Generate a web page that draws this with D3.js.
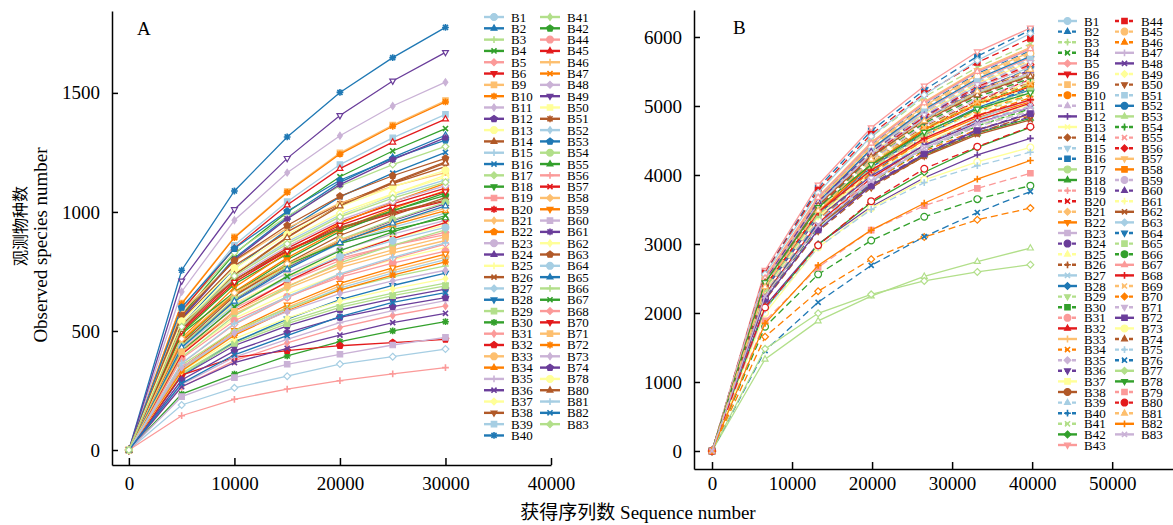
<!DOCTYPE html>
<html>
<head>
<meta charset="utf-8">
<script src="https://cdn.jsdelivr.net/npm/d3@7"></script>
<style>
body{margin:0;background:#fff;}
text{font-family:"Liberation Serif","Times New Roman","Noto Sans CJK SC",serif;fill:#000;}
</style>
</head>
<body>
<div id="wrapper"></div>
<script>
var colors = ['#a6cee3','#1f78b4','#b2df8a','#33a02c','#fb9a99','#e31a1c','#fdbf6f','#ff7f00','#cab2d6','#6a3d9a','#ffff99','#b15928'];

// panel A : sequencing depth and observed species per sample
var depthA = [0,5000,10000,15000,20000,25000,30000];
var xTicksA = [0,10000,20000,30000,40000];
var yTicksA = [0,500,1000,1500];
var namesA = ['B1','B2','B3','B4','B5','B6','B9','B10','B11','B12','B13','B14','B15','B16','B17','B18','B19','B20','B21','B22','B23','B24','B25','B26','B27','B28','B29','B30','B31','B32','B33','B34','B35','B36','B37','B38','B39','B40',
  'B41','B42','B44','B45','B46','B47','B48','B49','B50','B51','B52','B53','B54','B55','B56','B57','B58','B59','B60','B61','B62','B63','B64','B65','B66','B67','B68','B70','B71','B72','B73','B74','B78','B80','B81','B82','B83'];
var valuesA = [
  [0,522,738,874,987,1067,1135],
  [0,555,806,978,1124,1229,1322],
  [0,322,456,540,610,659,701],
  [0,567,824,999,1148,1256,1350],
  [0,421,595,705,796,860,915],
  [0,523,711,836,930,993,1045],
  [0,617,895,1086,1248,1365,1468],
  [0,614,892,1082,1243,1360,1462],
  [0,665,965,1165,1320,1445,1545],
  [0,311,439,521,588,635,676],
  [0,485,705,855,982,1074,1155],
  [0,508,738,895,1029,1125,1210],
  [0,458,647,766,866,935,995],
  [0,525,763,925,1063,1163,1250],
  [0,587,829,982,1109,1199,1275],
  [0,454,659,799,918,1004,1080],
  [0,453,615,724,805,860,905],
  [0,506,715,847,957,1034,1100],
  [0,405,572,678,766,827,880],
  [0,458,665,807,927,1014,1090],
  [0,444,627,743,840,907,965],
  [0,435,631,766,880,963,1035],
  [0,391,553,655,740,799,850],
  [0,547,774,916,1035,1119,1190],
  [0,189,261,310,361,392,424],
  [0,312,453,550,632,691,743],
  [0,317,448,531,599,648,689],
  [0,235,319,395,455,500,539],
  [0,265,375,450,515,565,605],
  [0,315,389,417,438,451,465],
  [0,340,494,599,689,753,810],
  [0,462,653,774,874,945,1005],
  [0,275,390,465,535,585,627],
  [0,266,367,427,483,535,574],
  [0,527,744,882,996,1076,1145],
  [0,445,647,784,901,986,1060],
  [0,592,860,1043,1199,1311,1410],
  [0,755,1088,1315,1502,1648,1775],
  [0,389,564,685,786,860,925],
  [0,492,696,824,931,1006,1070],
  [0,384,543,643,726,785,835],
  [0,584,848,1029,1182,1293,1390],
  [0,583,792,932,1037,1107,1165],
  [0,470,683,829,952,1042,1120],
  [0,511,722,855,966,1043,1110],
  [0,710,1010,1225,1405,1550,1670],
  [0,435,614,728,822,888,945],
  [0,525,714,840,935,998,1050],
  [0,336,488,592,680,744,800],
  [0,599,846,1003,1133,1224,1302],
  [0,437,634,770,884,967,1040],
  [0,488,663,780,868,926,975],
  [0,144,213,256,291,320,346],
  [0,401,583,707,812,888,955],
  [0,467,660,782,883,954,1015],
  [0,346,502,609,700,765,823],
  [0,224,304,360,402,441,473],
  [0,551,800,971,1115,1220,1312],
  [0,331,468,554,626,677,720],
  [0,564,796,943,1066,1152,1225],
  [0,430,608,720,813,879,935],
  [0,431,625,759,871,953,1025],
  [0,356,502,595,673,727,773],
  [0,414,601,729,837,916,985],
  [0,363,528,640,735,804,865],
  [0,499,705,835,944,1020,1085],
  [0,412,582,689,779,841,895],
  [0,332,482,585,672,735,790],
  [0,347,491,581,657,710,755],
  [0,294,416,493,557,602,640],
  [0,541,764,905,1022,1105,1175],
  [0,506,735,892,1025,1121,1205],
  [0,365,531,644,740,809,870],
  [0,280,400,480,560,620,661],
  [0,518,731,866,979,1058,1125]
];

// panel B
var depthB = [0,6630,13260,19890,26520,33150,39780];
var xTicksB = [0,10000,20000,30000,40000,50000];
var yTicksB = [0,1000,2000,3000,4000,5000,6000];
var namesB = ['B1','B2','B3','B4','B5','B6','B9','B10','B11','B12','B13','B14','B15','B16','B17','B18','B19','B20','B21','B22','B23','B24','B25','B26','B27','B28','B29','B30','B31','B32','B33','B34','B35','B36','B37','B38','B39','B40','B41','B42','B43',
  'B44','B45','B46','B47','B48','B49','B50','B51','B52','B53','B54','B55','B56','B57','B58','B59','B60','B61','B62','B63','B64','B65','B66','B67','B68','B69','B70','B71','B72','B73','B74','B75','B76','B77','B78','B79','B80','B81','B82','B83'];
var valuesB = [
  [0,2500,3640,4365,4895,5280,5560],
  [0,2495,3655,4435,5015,5470,5800],
  [0,2415,3495,4110,4575,4910,5140],
  [0,2230,3250,3895,4365,4710,4960],
  [0,2450,3590,4360,4930,5375,5700],
  [0,2375,3460,4145,4645,5015,5280],
  [0,2470,3615,4390,4965,5415,5740],
  [0,2295,3320,3905,4345,4660,4880],
  [0,2440,3550,4255,4770,5150,5420],
  [0,2100,3000,3540,3960,4290,4530],
  [0,2360,3415,4015,4470,4795,5020],
  [0,2405,3500,4190,4700,5075,5340],
  [0,2415,3540,4300,4860,5300,5620],
  [0,2590,3815,4640,5230,5720,6100],
  [0,2455,3575,4285,4805,5185,5460],
  [0,2265,3280,3855,4290,4605,4820],
  [0,2340,3405,4080,4575,4940,5200],
  [0,2315,3395,4120,4660,5080,5385],
  [0,2435,3565,4330,4895,5335,5660],
  [0,2380,3440,4050,4505,4830,5060],
  [0,2505,3665,4450,5035,5490,5820],
  [0,2205,3210,3845,4310,4655,4900],
  [0,2465,3570,4200,4675,5015,5250],
  [0,2475,3605,4320,4840,5225,5500],
  [0,2195,3215,3900,4410,4810,5100],
  [0,2460,3605,4375,4950,5395,5720],
  [0,2320,3360,3950,4395,4720,4940],
  [0,2390,3480,4170,4675,5045,5310],
  [0,2400,3515,4270,4825,5260,5580],
  [0,2270,3300,3955,4435,4790,5040],
  [0,2485,3640,4420,5000,5450,5780],
  [0,2425,3510,4130,4590,4930,5160],
  [0,2415,3515,4215,4725,5100,5370],
  [0,2275,3290,3870,4310,4620,4840],
  [0,2425,3555,4315,4880,5320,5640],
  [0,2450,3565,4270,4785,5170,5440],
  [0,2350,3400,4000,4450,4775,5000],
  [0,2265,3315,4030,4555,4965,5265],
  [0,2560,3760,4550,5130,5560,5900],
  [0,2060,2990,3600,4040,4400,4690],
  [0,2620,3855,4685,5290,5785,6130],
  [0,2580,3780,4590,5180,5630,5980],
  [0,2475,3630,4405,4980,5430,5760],
  [0,2305,3355,4020,4505,4865,5120],
  [0,2465,3590,4300,4820,5205,5480],
  [0,2340,3385,3985,4430,4755,4980],
  [0,2305,3375,4095,4630,5050,5355],
  [0,2185,3185,3815,4275,4615,4860],
  [0,2440,3580,4345,4915,5355,5680],
  [0,2355,3430,4110,4605,4975,5235],
  [0,1330,1885,2245,2530,2745,2940],
  [0,2430,3535,4240,4750,5130,5400],
  [0,2390,3455,4065,4520,4850,5080],
  [0,2410,3530,4285,4845,5280,5600],
  [0,2515,3685,4475,5060,5515,5850],
  [0,2385,3470,4155,4660,5030,5295],
  [0,2310,3345,3935,4380,4700,4920],
  [0,2485,3615,4335,4860,5245,5520],
  [0,2330,3395,4065,4560,4920,5180],
  [0,2255,3265,3840,4270,4585,4800],
  [0,2560,3740,4560,5160,5660,6050],
  [0,2380,3490,4240,4790,5225,5540],
  [0,2350,3420,4100,4595,4960,5220],
  [0,1800,2560,3050,3395,3650,3845],
  [0,2505,3675,4460,5045,5500,5830],
  [0,2390,3460,4070,4530,4860,5090],
  [0,2395,3490,4180,4685,5060,5325],
  [0,1655,2315,2780,3100,3350,3520],
  [0,2420,3545,4305,4870,5310,5630],
  [0,2200,3205,3840,4305,4645,4890],
  [0,2000,2950,3520,3930,4190,4400],
  [0,2445,3555,4265,4780,5160,5430],
  [0,2050,2950,3500,3890,4135,4330],
  [0,1455,2155,2690,3105,3455,3760],
  [0,1480,1995,2270,2465,2595,2700],
  [0,2440,3530,4150,4620,4955,5190],
  [0,1885,2660,3200,3555,3805,4025],
  [0,2080,2980,3620,4090,4410,4700],
  [0,2380,3485,4230,4785,5215,5530],
  [0,1850,2690,3200,3590,3940,4210],
  [0,2245,3270,3915,4390,4740,4990]
];

var markersA = ['o','^','+','x','D','v','s','*','d','p'];
var markersB = ['o','^','+','x','D','v','s'];

var svg = d3.select('#wrapper').append('svg')
            .attr('width',1173)
            .attr('height',525);

function markerPath(t, r){
  var a = r*0.75, h = r*0.87;
  if(t==='o') return 'M'+r+',0A'+r+','+r+' 0 1,1 '+(-r)+',0A'+r+','+r+' 0 1,1 '+r+',0Z';
  if(t==='p'){
    var p = d3.range(5).map(function(k){ var an = -Math.PI/2 + k*2*Math.PI/5; return [r*Math.cos(an), r*Math.sin(an)]; });
    return 'M'+p.join('L')+'Z';
  }
  if(t==='^') return 'M0,'+(-r)+'L'+h+','+(r*0.55)+'L'+(-h)+','+(r*0.55)+'Z';
  if(t==='v') return 'M0,'+r+'L'+h+','+(-r*0.55)+'L'+(-h)+','+(-r*0.55)+'Z';
  if(t==='D') return 'M0,'+(-r)+'L'+r+',0L0,'+r+'L'+(-r)+',0Z';
  if(t==='d') return 'M0,'+(-r)+'L'+(r*0.7)+',0L0,'+r+'L'+(-r*0.7)+',0Z';
  if(t==='s'){ var s = r*0.8; return 'M'+(-s)+','+(-s)+'H'+s+'V'+s+'H'+(-s)+'Z'; }
  if(t==='+') return 'M'+(-r)+',0H'+r+'M0,'+(-r)+'V'+r;
  if(t==='x') return 'M'+(-a)+','+(-a)+'L'+a+','+a+'M'+(-a)+','+a+'L'+a+','+(-a);
  if(t==='*') return 'M'+(-r)+',0H'+r+'M0,'+(-r)+'V'+r+'M'+(-a)+','+(-a)+'L'+a+','+a+'M'+(-a)+','+a+'L'+a+','+(-a);
  return '';
}
var lineMarks = {'+':1,'x':1,'*':1};

function drawMarker(g, t, col, cx, cy, r, hollow){
  var m = g.append('path')
           .attr('d', markerPath(t, r))
           .attr('transform','translate('+cx+','+cy+')')
           .style('stroke', col)
           .style('stroke-width', lineMarks[t] ? 1.6 : 1.2);
  if(lineMarks[t]) m.style('fill','none');
  else m.style('fill', hollow ? '#fff' : col);
}

function panel(cfg){
  var x = d3.scaleLinear().domain(cfg.xDomain).range(cfg.xRange);
  var y = d3.scaleLinear().domain(cfg.yDomain).range(cfg.yRange);
  var line = d3.line()
               .x(function(d,i){ return x(cfg.depth[i]); })
               .y(function(d){ return y(d); });

  var plot = svg.append('g').attr('class','plot');
  cfg.values.forEach(function(vals, i){
    var col = colors[i % 12];
    var mk = cfg.markers[i % cfg.markers.length];
    var dashed = cfg.dashed && !(i % 5 === 0 || i % 5 === 4);
    var s = plot.append('g');
    s.append('path')
     .attr('d', line(vals))
     .style('fill','none')
     .style('stroke', col)
     .style('stroke-width', 1.3)
     .style('stroke-dasharray', dashed ? '7,4' : null);
    vals.forEach(function(v, j){
      drawMarker(s, mk, col, x(cfg.depth[j]), y(v), 3.4, cfg.hollow[mk]);
    });
  });

  var xAxis = d3.axisBottom(x).tickValues(cfg.xTicks).tickFormat(d3.format('d'))
                .tickSizeInner(-7).tickSizeOuter(0).tickPadding(cfg.xPad);
  var yAxis = d3.axisLeft(y).tickValues(cfg.yTicks).tickFormat(d3.format('d'))
                .tickSizeInner(-6).tickSizeOuter(0).tickPadding(12);
  var gx = svg.append('g').attr('transform','translate(0,'+cfg.yRange[0]+')').call(xAxis);
  var gy = svg.append('g').attr('transform','translate('+cfg.xRange[0]+',0)').call(yAxis);
  [gx, gy].forEach(function(a){
    a.attr('font-family', null).attr('font-size', null);
    a.selectAll('path,line').style('stroke','#000').style('stroke-width',1.5);
    a.selectAll('text').style('font-size','19px');
  });

  svg.append('text')
     .attr('x', cfg.labelPos[0]).attr('y', cfg.labelPos[1])
     .style('font-size','19px')
     .text(cfg.label);

  // legend, two columns; each column's labels are one text block
  var lg = svg.append('g');
  var colText = [0,1].map(function(c){
    return lg.append('text').style('font-size', cfg.legFont);
  });
  cfg.names.forEach(function(n, i){
    var c = i < cfg.split ? 0 : 1;
    var row = c === 0 ? i : i - cfg.split;
    var col = colors[i % 12];
    var mk = cfg.markers[i % cfg.markers.length];
    var dashed = cfg.dashed && !(i % 5 === 0 || i % 5 === 4);
    var lx = cfg.legX[c], ly = cfg.legY + row * cfg.legStep;
    lg.append('line')
      .attr('x1', lx).attr('x2', lx + cfg.legW)
      .attr('y1', ly).attr('y2', ly)
      .style('stroke', col).style('stroke-width', 2.4)
      .style('stroke-dasharray', dashed ? '4,3' : null);
    drawMarker(lg, mk, col, lx + cfg.legW/2, ly, 3.4, false);
    colText[c].append('tspan')
      .attr('x', lx + cfg.legW + cfg.legGap).attr('y', ly + 4.5)
      .text(n);
  });
}

panel({
  depth: depthA, values: valuesA, names: namesA,
  xDomain: [-1600, 40000], xRange: [112, 551],
  yDomain: [-63, 1844], yRange: [465, 11],
  xTicks: xTicksA, yTicks: yTicksA, xPad: 12,
  markers: markersA, dashed: false, hollow: {'^':1,'v':1,'D':1},
  label: 'A', labelPos: [137, 35],
  split: 38, legX: [484, 540], legW: 20, legGap: 7, legY: 17, legStep: 11.31, legFont: '13px'
});

panel({
  depth: depthB, values: valuesB, names: namesB,
  xDomain: [-2250, 57600], xRange: [694, 1173],
  yDomain: [-261, 6391], yRange: [469, 10],
  xTicks: xTicksB, yTicks: yTicksB, xPad: 8,
  markers: markersB, dashed: true, hollow: {'o':1,'^':1,'v':1,'D':1},
  label: 'B', labelPos: [733, 34],
  split: 41, legX: [1058, 1115], legW: 19, legGap: 7, legY: 21, legStep: 10.6, legFont: '13px'
});

// axis titles
svg.append('text')
   .attr('transform','translate(20,226) rotate(-90)')
   .attr('text-anchor','middle').attr('dy','0.35em')
   .style('font-size','16px')
   .text('观测物种数');
svg.append('text')
   .attr('transform','translate(40,245) rotate(-90)')
   .attr('text-anchor','middle').attr('dy','0.35em')
   .style('font-size','19px')
   .text('Observed species number');
svg.append('text')
   .attr('x', 638).attr('y', 519)
   .attr('text-anchor','middle')
   .style('font-size','19px')
   .text('获得序列数 Sequence number');
</script>
</body>
</html>
